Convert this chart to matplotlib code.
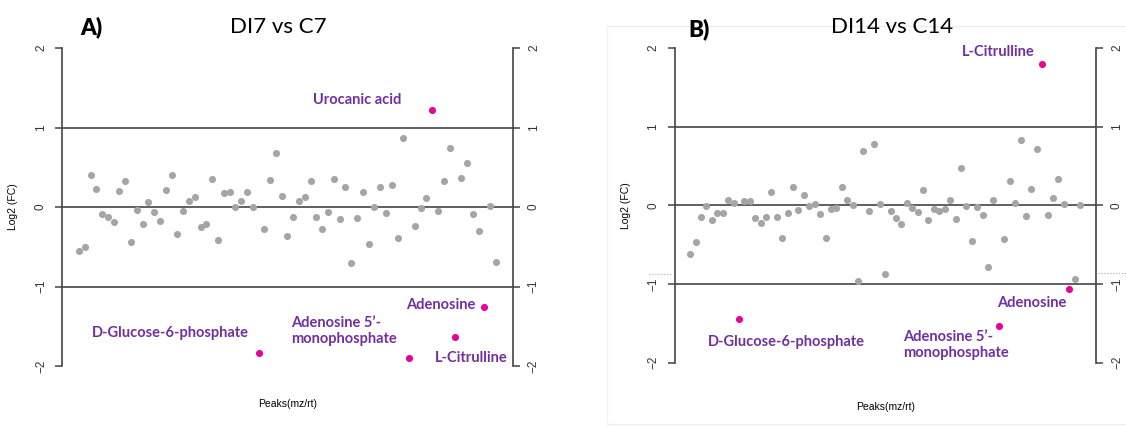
import matplotlib.pyplot as plt
from matplotlib.lines import Line2D

# Panel A: DI7 vs C7 (peak index, log2 FC)
a_idx = [1, 2, 3, 4, 5, 6, 7, 8, 9, 10, 11, 12, 13, 14, 15, 16, 17, 18, 19, 20,
         21, 22, 23, 24, 25, 26, 27, 28, 29, 30, 31, 33, 34, 35, 36, 37, 38, 39, 40,
         41, 42, 43, 44, 45, 46, 47, 48, 49, 50, 51, 52, 53, 54, 55, 56, 57, 59, 60,
         61, 63, 64, 65, 67, 68, 69, 70, 72, 73]
a_fc = [-0.556, -0.506, 0.405, 0.226, -0.088, -0.13, -0.19, 0.197, 0.326, -0.44,
        -0.033, -0.21, 0.067, -0.063, -0.18, 0.213, 0.405, -0.34, -0.054, 0.075,
        0.125, -0.247, -0.213, 0.347, -0.414, 0.18, 0.192, 0.0, 0.075, 0.192, 0.0,
        -0.28, 0.335, 0.681, 0.134, -0.364, -0.121, 0.071, 0.125, 0.322, -0.125,
        -0.276, -0.059, 0.347, -0.155, 0.251, -0.699, -0.138, 0.184, -0.46, 0.0,
        0.247, -0.079, 0.272, -0.389, 0.866, -0.243, -0.017, 0.113, -0.046, 0.322,
        0.74, 0.36, 0.556, -0.088, -0.297, 0.013, -0.696]
a_hit_idx = [32, 58, 62, 66, 71]
a_hit_fc = [-1.84, -1.895, 1.217, -1.64, -1.257]

# Panel B: DI14 vs C14
b_idx = [1, 2, 3, 4, 5, 6, 7, 8, 9, 11, 12, 13, 14, 15, 16, 17, 18, 19, 20, 21,
         22, 23, 24, 25, 26, 27, 28, 29, 30, 31, 32, 33, 34, 35, 36, 37, 38, 39, 40,
         41, 42, 43, 44, 45, 46, 47, 48, 49, 50, 51, 52, 53, 54, 55, 56, 57, 59, 60,
         61, 62, 63, 64, 65, 67, 68, 69, 70, 72, 73]
b_fc = [-0.619, -0.466, -0.145, -0.005, -0.183, -0.094, -0.102, 0.071, 0.029,
        0.051, 0.055, -0.157, -0.225, -0.149, 0.173, -0.145, -0.415, -0.098, 0.229,
        -0.064, 0.135, -0.009, 0.02, -0.11, -0.42, -0.047, -0.038, 0.229, 0.067,
        0.008, -0.958, 0.69, -0.072, 0.779, 0.017, -0.877, -0.068, -0.161, -0.233,
        0.029, -0.038, -0.081, 0.194, -0.191, -0.051, -0.076, -0.047, 0.071, -0.174,
        0.478, -0.013, -0.454, -0.018, -0.127, -0.788, 0.067, -0.424, 0.309, 0.025,
        0.83, -0.136, 0.211, 0.719, -0.123, 0.089, 0.334, 0.017, -0.94, 0.004]
b_hit_idx = [10, 58, 66, 71]
b_hit_fc = [-1.449, -1.54, 1.79, -1.06]

# label text, anchor (idx, fc), alignment
a_labels = [("Urocanic acid", 49.1, 1.35, "center"),
            ("D-Glucose-6-phosphate", 16.7, -1.585, "center"),
            ("Adenosine 5\u2019-\nmonophosphate", 37.7, -1.555, "left"),
            ("Adenosine", 63.5, -1.23, "center"),
            ("L-Citrulline", 68.8, -1.9, "center")]
b_labels = [("L-Citrulline", 57.97, 1.95, "center"),
            ("D-Glucose-6-phosphate", 18.7, -1.737, "center"),
            ("Adenosine 5\u2019-\nmonophosphate", 40.3, -1.775, "left"),
            ("Adenosine", 64.0, -1.24, "center")]

GRAY = "#a5a5a5"
HIT = "#e8009a"
PURPLE = "#7030a0"
LINE = "#444444"

fig = plt.figure(figsize=(11.26, 4.26), dpi=100)


def panel(rect, idx, fc, hit_idx, hit_fc, labels, xpad):
    ax = fig.add_axes(rect)
    ax.scatter(idx, fc, s=26, color=GRAY, linewidths=0, zorder=3)
    ax.scatter(hit_idx, hit_fc, s=26, color=HIT, linewidths=0, zorder=3)
    for y in (1, 0, -1):
        ax.axhline(y, color=LINE, lw=1.2, zorder=1)
    n = 73
    ax.set_xlim(1 - 0.04 * (n - 1), n + 0.04 * (n - 1))
    ax.set_ylim(-2, 2)
    for s in ("top", "bottom"):
        ax.spines[s].set_visible(False)
    for s in ("left", "right"):
        ax.spines[s].set_color(LINE)
        ax.spines[s].set_linewidth(1.2)
    ax.set_xticks([])
    ax.set_yticks([-2, -1, 0, 1, 2])
    ax.tick_params(axis="y", left=True, right=True, labelleft=True, labelright=True,
                   direction="out", length=5, width=1.1, color=LINE, pad=6,
                   labelsize=8.5, labelcolor="#333333", labelrotation=90)
    for lab in ax.get_yticklabels():
        lab.set_fontfamily("Liberation Sans")
        lab.set_va("center")
    for txt, x, y, ha in labels:
        ax.text(x, y, txt, color=PURPLE, fontsize=10.5, fontweight="bold",
                fontfamily="Lato", ha=ha, va="center", linespacing=1.2)
    ax.set_ylabel("Log2 (FC)", fontsize=7.5, fontfamily="Liberation Sans", labelpad=12)
    ax.set_xlabel("Peaks(mz/rt)", fontsize=7.5, fontfamily="Liberation Sans", labelpad=xpad)
    return ax


axA = panel([0.0553, 0.1408, 0.4000, 0.7465], a_idx, a_fc, a_hit_idx, a_hit_fc, a_labels, 24)
axB = panel([0.5991, 0.1486, 0.3740, 0.7390], b_idx, b_fc, b_hit_idx, b_hit_fc, b_labels, 28)

# panel headings
fig.text(0.071, 0.937, "A)", fontsize=16, fontweight="heavy", fontfamily="Lato", ha="left", va="center")
fig.text(0.247, 0.937, "DI7 vs C7", fontsize=16, fontfamily="Lato", ha="center", va="center")
fig.text(0.611, 0.932, "B)", fontsize=16, fontweight="heavy", fontfamily="Lato", ha="left", va="center")
fig.text(0.792, 0.937, "DI14 vs C14", fontsize=16, fontfamily="Lato", ha="center", va="center")

# faint frame of pasted panel B and its dotted guide stubs
fig.add_artist(Line2D([0.539, 1.0], [0.938, 0.938], color="#eeeeee", lw=1))
fig.add_artist(Line2D([0.539, 1.0], [0.005, 0.005], color="#eeeeee", lw=1))
fig.add_artist(Line2D([0.539, 0.539], [0.005, 0.938], color="#f2f2f2", lw=1))
fig.add_artist(Line2D([0.576, 0.597], [0.357, 0.357], color="#aaaaaa", lw=0.8, ls=":"))
fig.add_artist(Line2D([0.975, 1.0], [0.36, 0.36], color="#aaaaaa", lw=0.8, ls=":"))

fig.savefig("out.png", dpi=100)
